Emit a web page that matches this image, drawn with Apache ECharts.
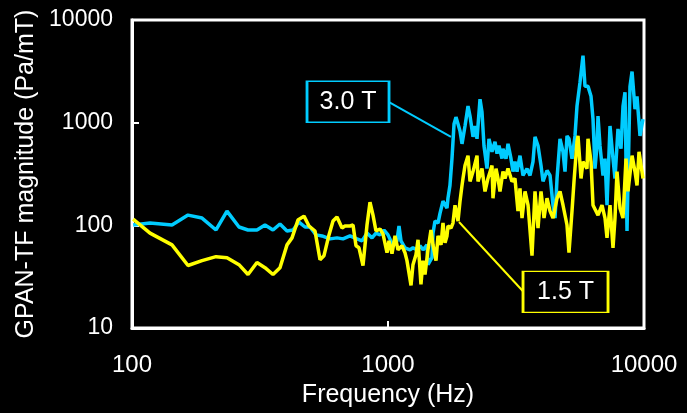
<!DOCTYPE html>
<html><head><meta charset="utf-8">
<script src="https://cdn.jsdelivr.net/npm/echarts@6/dist/echarts.min.js"></script>
<style>html,body{margin:0;padding:0;background:#fff;}#c{width:687px;height:413px;background:#000;}</style>
</head><body><div id="c"></div>
<script>
// Tick labels
const xTickLabels = [100, 1000, 10000];
const yTickLabels = [10, 100, 1000, 10000];

// 1.5 T series (frequency in Hz, magnitude in Pa/mT)
const freq15 = [101,117.6,143.3,165.5,187.7,212.9,235,261.8,283.9,307.7,330.7,355.4,378.5,403.2,421.7,444.9,469.8,491.4,518.7,542.5,562.3,588.2,609.8,632.1,661.2,679.2,710.5,730.1,749.9,770.4,798.6,827.9,850.5,873.8,897.6,930.6,956,991,1009,1036.6,1065,1094,1134,1165,1186,1230,1252,1286,1310,1345,1370,1395,1433,1472,1499,1540,1568,1611,1640,1670,1700,1715,1762,1794,1827,1860,1877,1911,1946,1963,1999,2054,2091,2148,2227,2247,2329,2393,2458,2548,2571,2642,2690,2738,2813,2864,2943,3050,3133,3219,3278,3338,3430,3524,3652,3752,3855,3960,4069,4180,4295,4412,4574,4698,4827,5003,5093,5233,5328,5473,5523,5675,5777,5988,6043,6209,6322,6494,6612,6854,7042,7170,7366,7567,7704,7844,8059,8279,8506,8660,8981,9222,9390,9561,9910];
const mag15 = [115,84,64.5,40.6,45.3,49.5,48.4,41.4,33.2,43.4,38.7,33.2,38.7,64.5,75.5,112.5,123,98.5,88.1,46.3,50.6,80.7,110,120.6,94.2,98.5,98.5,100.7,63.2,60.4,40.6,100.7,168,125.8,88.1,92.2,82.4,54.1,70.6,52.9,78.9,57.8,63.2,54.1,45.3,26,41.4,51.8,72.2,26.6,45.3,33.2,57.8,90.1,64.5,45.3,78.9,64.5,105.3,67.5,78.9,98.5,94.2,105.3,157,125.8,110,171.7,245,286,382,477,268,334,477,268,357,214,286,382,183.5,357,286,214,334,286,357,268,286,137.4,229,117.7,214,157,50.6,214,94.2,214,117.7,183.5,137.4,117.7,183.5,214,157,100.7,54.1,137.4,268,651,743,286,417,357,696,417,157,137.4,125.8,157,117.7,75.5,157,60.4,117.7,334,147,117.7,446,214,477,334,245,521,286];

// 3.0 T series
const freq30 = [101,117.6,143.3,165.5,187.7,212.9,235,261.8,283.9,307.7,330.7,355.4,378.5,403.2,425.6,448.9,474,495.9,523.4,552.5,593.5,632.1,667.2,710.5,756.8,791.5,827.9,865.9,897.6,930.6,964.7,1000,1046,1084,1104,1124,1165,1219,1252,1298,1334,1370,1420,1433,1485,1499,1526,1568,1597,1640,1700,1715,1746,1778,1811,1843,1877,1911,1946,1999,2054,2091,2148,2187,2227,2288,2329,2371,2436,2480,2548,2618,2666,2714,2788,2813,2890,2943,3023,3078,3133,3191,3278,3368,3491,3587,3685,3752,3855,3960,4032,4180,4295,4412,4492,4574,4698,4827,4914,5003,5093,5233,5376,5473,5623,5777,5882,6043,6209,6322,6436,6553,6612,6731,6916,7042,7170,7366,7567,7704,7913,8132,8279,8430,8583,8816,8981,9222,9390,9647,9910];
const mag30 = [100.7,105.3,100.7,125.8,117.7,90.1,137.4,96.3,90.1,90.1,100.7,90.1,103,88.1,90.1,107.7,96.3,96.3,80.7,78.9,73.8,75.5,73.8,78.9,73.8,70.6,84,75.5,84,80.7,90.1,80.7,63.2,70.6,98.5,70.6,60.4,57.8,60.4,57.8,63.2,57.8,64.5,41.4,48.4,84,110,105.3,131.5,171.7,147,183.5,245,446,970,1133,970,831,622,929,1449,1159,728,929,696,1691,1268,596,357,696,521,651,499,596,446,557,446,622,446,334,417,334,477,306,357,306,417,728,596,382,268,342,306,157,117.7,286,696,521,334,743,696,446,743,1449,2466,4496,2257,2257,1807,1084,357,596,1159,596,306,446,157,929,446,286,869,557,1449,1977,88.1,2257,3148,1355,1807,743,1084];

// Annotations (data coordinates: [Hz, Pa/mT])
const label30Text = '3.0 T', label30At = [698, 1600], arrow30 = [[1009, 1581], [1762, 728]];
const label15Text = '1.5 T', label15At = [4937, 22.5], arrow15 = [[3368, 22.8], [1894, 107.7]];

const CYAN = '#00CCFF', YELLOW = '#FFFF00';
const FONT = 'Liberation Sans, Arial, sans-serif';

function pairs(f, v) { return f.map((x, i) => [x, v[i]]); }
function ann(color, text, at, arrow, w) {
  return {
    markPoint: {
      silent: true, animation: false,
      symbol: 'rect', symbolSize: [w, 41],
      itemStyle: { color: '#000', borderColor: color, borderWidth: 2 },
      label: { show: true, position: 'inside', formatter: text, color: '#fff', fontSize: 25, fontFamily: FONT },
      data: [{ coord: at }]
    },
    markLine: {
      silent: true, animation: false,
      symbol: ['none', 'arrow'], symbolSize: [0, 9],
      lineStyle: { color: color, width: 2, type: 'solid' },
      label: { show: false },
      data: [[{ coord: arrow[0] }, { coord: arrow[1] }]]
    }
  };
}

const chart = echarts.init(document.getElementById('c'), null, { renderer: 'canvas' });
const axisCommon = {
  type: 'log', logBase: 10,
  axisLine: { show: true, lineStyle: { color: '#fff', width: 3 } },
  axisTick: { show: true, inside: true, length: 7, lineStyle: { color: '#fff', width: 2 } },
  minorTick: { show: false },
  splitLine: { show: false },
  nameLocation: 'middle',
  nameTextStyle: { color: '#fff', fontSize: 25, fontFamily: FONT }
};
chart.setOption({
  animation: false,
  backgroundColor: '#000',
  grid: { left: 132, top: 20, width: 512, height: 311, show: true, borderColor: '#fff', borderWidth: 3 },
  xAxis: Object.assign({}, axisCommon, {
    min: xTickLabels[0], max: xTickLabels[xTickLabels.length - 1],
    name: 'Frequency (Hz)', nameGap: 55,
    axisLabel: { color: '#fff', fontSize: 24, fontFamily: FONT, margin: 25,
      formatter: v => { const r = Math.round(v); return xTickLabels.includes(r) ? String(r) : ''; } }
  }),
  yAxis: Object.assign({}, axisCommon, {
    min: yTickLabels[0], max: yTickLabels[yTickLabels.length - 1],
    name: 'GPAN-TF magnitude (Pa/mT)', nameGap: 82, nameRotate: 90,
    axisLabel: { color: '#fff', fontSize: 23, fontFamily: FONT, margin: 19,
      formatter: v => { const r = Math.round(v); return yTickLabels.includes(r) ? String(r) : ''; } }
  }),
  series: [
    Object.assign({
      name: '3.0 T', type: 'line', data: pairs(freq30, mag30), showSymbol: false, symbol: 'none',
      lineStyle: { color: CYAN, width: 3.5 }, itemStyle: { color: CYAN }, z: 2
    }, ann(CYAN, label30Text, label30At, arrow30, 82)),
    Object.assign({
      name: '1.5 T', type: 'line', data: pairs(freq15, mag15), showSymbol: false, symbol: 'none',
      lineStyle: { color: YELLOW, width: 3.5 }, itemStyle: { color: YELLOW }, z: 3
    }, ann(YELLOW, label15Text, label15At, arrow15, 85))
  ]
});
</script>
</body></html>
